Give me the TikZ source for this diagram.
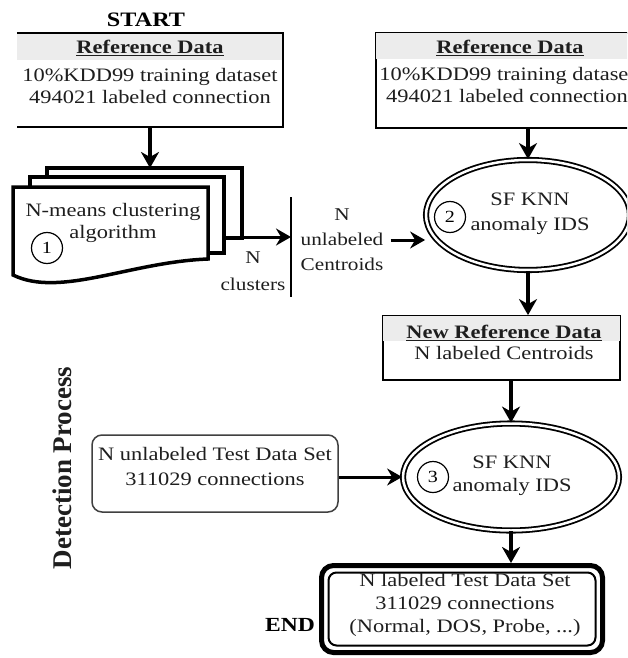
\documentclass[tikz,border=0pt]{standalone}
\usepackage{fontspec}
\setmainfont{Liberation Serif}[FakeStretch=1.18]
\newfontfamily\uprightserif{Liberation Serif}
\usetikzlibrary{arrows.meta,shapes.geometric,calc}

\definecolor{headgrey}{HTML}{ECECEC}
\definecolor{inkgrey}{HTML}{1E1E1E}

\tikzset{
  txt/.style={font=\fontsize{19}{22}\selectfont, align=center, inner sep=0pt, text=inkgrey},
  smalltxt/.style={font=\fontsize{18}{25}\selectfont, align=center, inner sep=0pt, text=inkgrey},
  headtxt/.style={font=\bfseries\fontsize{19}{22}\selectfont, inner sep=0pt, text=inkgrey},
  panel/.style={draw=black, line width=1.8pt, inner sep=0pt},
  openpanel/.style={inner sep=0pt},
  layer/.style={draw=black, line width=3.5pt, fill=white, line join=miter},
  testbox/.style={draw=black!75, line width=1.5pt, rounded corners=10pt, inner sep=0pt},
  finalbox/.style={draw=black, line width=2pt, rounded corners=8pt, inner sep=0pt},
  idsnode/.style={ellipse, draw=black, double=white, double distance=2.5pt, line width=1.8pt, inner sep=0pt},
  numcirc/.style={circle, draw=black, line width=1.2pt, minimum size=31pt, inner sep=0pt,
    font=\fontsize{17}{20}\selectfont},
  flow/.style={line width=3.5pt, -{Stealth[length=16pt,width=18pt,inset=5pt]}},
  flowh/.style={line width=3pt, -{Stealth[length=15pt,width=17pt,inset=5pt]}},
  bar/.style={line width=1.5pt},
}

\begin{document}
\begin{tikzpicture}[x=1pt,y=-1pt]
\useasboundingbox (0,0) rectangle (627,658);
\fill[white] (0,0) rectangle (627,658);
\clip (0,0) rectangle (627,658);

% ---------- title ----------
\node[font=\bfseries\fontsize{20.5}{24}\selectfont, inner sep=0pt] (start) at (146,20) {START};

% ---------- reference data (left) ----------
\node[openpanel, minimum width=266pt, minimum height=94pt] (ref1) at (150,80) {};
\fill[headgrey] (ref1.north west) rectangle ([shift={(0,27)}]ref1.north east);
\draw[line width=1.8pt] (ref1.north west) -- (ref1.north east) -- (ref1.south east) -- (ref1.south west);
\node[headtxt] (ref1h) at (150,48) {\underline{Reference Data}};
\node[txt] (ref1t) at (150,86) {10\%KDD99 training dataset\\494021 labeled connection};

% ---------- reference data (right) ----------
\node[panel, minimum width=266pt, minimum height=95pt] (ref2) at (509,80.5) {};
\fill[headgrey] ([shift={(1,1)}]ref2.north west) rectangle ([shift={(-1,27)}]ref2.north east);
\node[headtxt] (ref2h) at (510,48) {\underline{Reference Data}};
\node[txt] (ref2t) at (507,85) {10\%KDD99 training dataset\\494021 labeled connection};

% ---------- clustering (stacked documents) ----------
\draw[layer] (47,168) rectangle (242,238);
\draw[layer] (30,177) rectangle (224,253);
\draw[layer] (13,187) -- (208,187) -- (208,259)
  .. controls (130,262) and (60,298) .. (13,275) -- cycle;
\node[txt] (kmeans) at (113,223) {N-means clustering\\algorithm};
\node[numcirc] (n1) at (47,248) {1};
\coordinate (docTop) at (150,168);
\coordinate (docOut) at (242,237);

\draw[flow] (ref1.south) -- (docTop);

% ---------- clusters / centroids hand-over ----------
\coordinate (barTop) at (291,197);
\coordinate (barBot) at (291,297);
\draw[bar] (barTop) -- (barBot);
\draw[flowh] (docOut) -- (docOut -| barTop);
\node[smalltxt, font=\fontsize{18}{27}\selectfont] (nclus) at (253,271) {N\\clusters};
\node[smalltxt] (cent) at (342,240) {N\\unlabeled\\Centroids};

% ---------- first classifier ----------
\node[idsnode, minimum width=204pt, minimum height=110pt] (ids2) at (528,215) {};
\node[txt, font=\fontsize{19}{25}\selectfont] (ids2t) at (530,214) {SF KNN\\anomaly IDS};
\node[numcirc] (n2) at (450,217) {2};

\draw[flow] (ref2.south -| ids2.north) -- (ids2.north);
\draw[flowh] ([xshift=7pt]cent.east) -- (cent.east -| ids2.west);

% ---------- new reference data ----------
\node[panel, minimum width=237pt, minimum height=64pt] (newref) at (501.5,348) {};
\fill[headgrey] ([shift={(1,1)}]newref.north west) rectangle ([shift={(-1,26)}]newref.north east);
\node[headtxt] (newrefh) at (504,333) {\underline{New Reference Data}};
\node[txt] (newreft) at (504,353) {N labeled Centroids};

\draw[flow] (ids2.south) -- (ids2.south |- newref.north);

% ---------- detection stage ----------
\node[rotate=90, inner sep=0pt, font=\uprightserif\bfseries\fontsize{27}{30}\selectfont, text=inkgrey]
  (detect) at (62,468) {Detection Process};

\node[testbox, minimum width=246pt, minimum height=77pt] (test) at (215,473.5) {};
\node[txt, font=\fontsize{19}{25}\selectfont] (testt) at (215,466) {N unlabeled Test Data Set\\311029 connections};

\node[idsnode, minimum width=216pt, minimum height=107pt] (ids3) at (511,477) {};
\node[txt, font=\fontsize{19}{23}\selectfont] (ids3t) at (512,476) {SF KNN\\anomaly IDS};
\node[numcirc] (n3) at (433,477) {3};

\draw[flow] (newref.south -| ids3.north) -- (ids3.north);
\draw[flowh] (test.east |- ids3.west) -- (ids3.west);

% ---------- result ----------
\node[finalbox, minimum width=267pt, minimum height=73pt] (final) at (462,609) {};
\draw[line width=5pt, rounded corners=12pt]
  ([shift={(-6,-6)}]final.north west) rectangle ([shift={(6,6)}]final.south east);
\node[txt, font=\fontsize{19}{23}\selectfont] (finalt) at (465,605)
  {N labeled Test Data Set\\311029 connections\\(Normal, DOS, Probe, ...)};
\coordinate (finTop) at ($(final.north)+(0,-8.5)$);
\node[font=\bfseries\fontsize{20}{24}\selectfont, inner sep=0pt] (endlbl) at (290,625) {END};

\draw[flow] (ids3.south) -- (ids3.south |- finTop);
\end{tikzpicture}
\end{document}
